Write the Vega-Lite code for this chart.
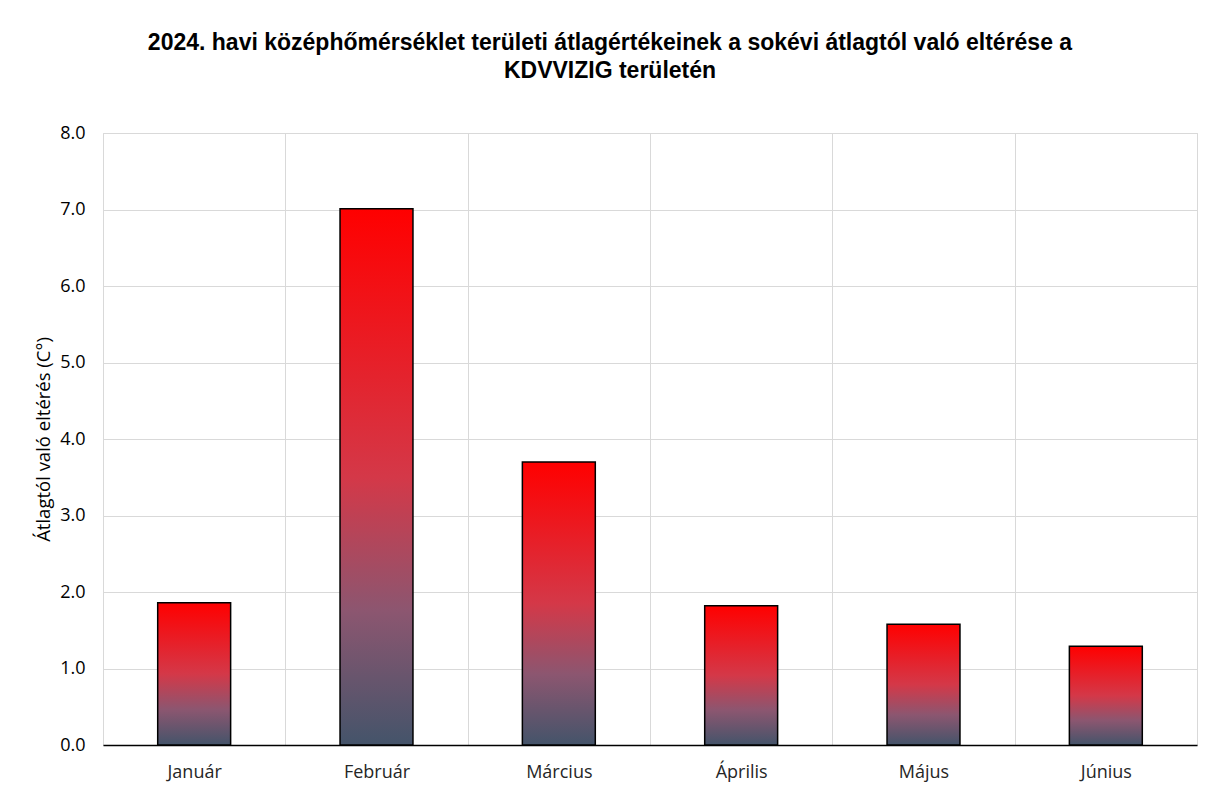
{
  "$schema": "https://vega.github.io/schema/vega-lite/v6.json",
  "width": 1094,
  "height": 612,
  "autosize": "none",
  "padding": {"left": 103, "top": 133, "right": 16, "bottom": 45},
  "background": "white",
  "title": {
    "text": ["2024. havi középhőmérséklet területi átlagértékeinek  a sokévi átlagtól való eltérése a", "KDVVIZIG területén"],
    "anchor": "middle",
    "dx": -40,
    "offset": 41,
    "font": "Liberation Sans",
    "fontSize": 23,
    "fontWeight": "bold",
    "lineHeight": 28,
    "color": "#000000"
  },
  "data": {
    "values": [
      {"honap": "Január", "ertek": 1.86},
      {"honap": "Február", "ertek": 7.01},
      {"honap": "Március", "ertek": 3.70},
      {"honap": "Április", "ertek": 1.82},
      {"honap": "Május", "ertek": 1.58},
      {"honap": "Június", "ertek": 1.29}
    ]
  },
  "mark": {
    "type": "bar",
    "width": {"band": 0.4},
    "stroke": "#000000",
    "strokeWidth": 1.5,
    "color": {
      "gradient": "linear",
      "x1": 0, "y1": 0, "x2": 0, "y2": 1,
      "stops": [
        {"offset": 0, "color": "#ff0000"},
        {"offset": 0.5, "color": "#d43848"},
        {"offset": 0.75, "color": "#8c5670"},
        {"offset": 1, "color": "#44546a"}
      ]
    }
  },
  "encoding": {
    "x": {
      "field": "honap",
      "type": "nominal",
      "sort": null,
      "scale": {"paddingInner": 0, "paddingOuter": 0},
      "axis": {
        "title": null,
        "labelAngle": 0,
        "labelFont": "Open Sans",
        "labelFontSize": 18,
        "labelColor": "#262626",
        "labelPadding": 18,
        "ticks": false,
        "domain": true,
        "domainColor": "#000000",
        "domainWidth": 1.5,
        "grid": true,
        "gridColor": "#d9d9d9",
        "tickBand": "extent"
      }
    },
    "y": {
      "field": "ertek",
      "type": "quantitative",
      "scale": {"domain": [0, 8], "nice": false},
      "axis": {
        "title": "Átlagtól való eltérés (C°)",
        "titleFont": "Open Sans",
        "titleFontSize": 18.5,
        "titleFontWeight": "normal",
        "titleColor": "#000000",
        "titlePadding": 6,
        "values": [0, 1, 2, 3, 4, 5, 6, 7, 8],
        "format": ".1f",
        "labelFont": "Open Sans",
        "labelFontSize": 18,
        "labelColor": "#000000",
        "labelPadding": 18,
        "ticks": false,
        "domain": false,
        "grid": true,
        "gridColor": "#d9d9d9"
      }
    }
  },
  "config": {
    "view": {"stroke": "#d9d9d9"}
  }
}
